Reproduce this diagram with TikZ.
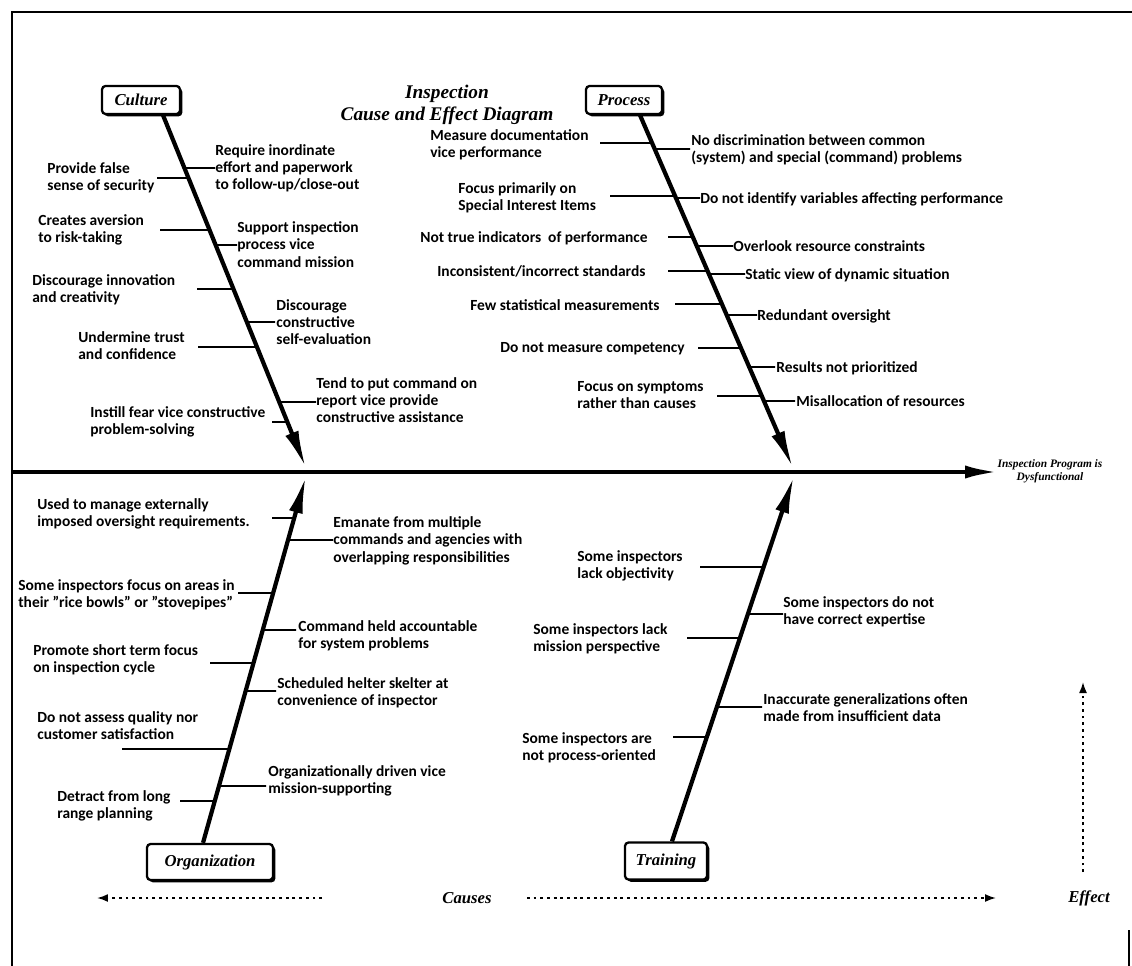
\documentclass[tikz,border=0pt]{standalone}
\usepackage{fontspec}
\setmainfont{Carlito}
\newfontfamily\headfont{Liberation Serif}
\usetikzlibrary{arrows.meta,shadows,positioning,calc}

\tikzset{
	cat/.style={draw,line width=1.3pt,rounded corners=2pt,fill=white,inner sep=0pt,
		font=\headfont\bfseries\itshape\fontsize{9.5}{11}\selectfont,
		drop shadow={opacity=1,fill=black,shadow xshift=1.3pt,shadow yshift=-1.3pt}},
	spine/.style={line width=2.4pt,-{Latex[length=0.75cm,width=0.28cm]}},
	bone/.style={line width=0.9pt},
	cause/.style={font=\bfseries\fontsize{8.8}{9.9}\selectfont,align=left,inner sep=0pt,anchor=north west},
	hint/.style={line width=1pt,dash pattern=on 1.6pt off 2.2pt,-{Latex[length=0.22cm,width=0.16cm]}},
	hintlbl/.style={font=\headfont\bfseries\itshape\fontsize{9.5}{11}\selectfont,inner sep=1pt},
}

\begin{document}
\begin{tikzpicture}[x=0.02cm,y=-0.02cm]
	\useasboundingbox (0,0) rectangle (1132,966);
	\draw[line width=1.2pt] (12,966) -- (12,12) -- (1132,12);
	\draw[line width=1pt] (1129,930) -- (1129,966);

	\node[font=\headfont\bfseries\itshape\fontsize{11}{12.8}\selectfont,align=center] (title) at (447,105) {Inspection\\Cause and Effect Diagram};

	\node[cat,minimum width=1.56cm,minimum height=0.56cm] (cul) at (141,100) {Culture};
	\node[cat,minimum width=1.52cm,minimum height=0.56cm] (pro) at (624,100) {Process};
	\node[cat,minimum width=2.52cm,minimum height=0.72cm] (org) at (210,862) {Organization};
	\node[cat,minimum width=1.64cm,minimum height=0.74cm] (trn) at (666,861) {Training};

	\coordinate (culS) at ([xshift=0.44cm]cul.south);
	\coordinate (proS) at ([xshift=0.32cm]pro.south);
	\coordinate (orgS) at ([xshift=-0.14cm]org.north);
	\coordinate (trnS) at ([xshift=0.12cm]trn.north);
	\coordinate (culT) at (306,468);
	\coordinate (proT) at (793,468);
	\coordinate (orgT) at (306,476);
	\coordinate (trnT) at (794,476);
	\coordinate (fishL) at (12,472);
	\coordinate (fishT) at (1000,472);

	\draw[spine,line width=2.7pt,-{Latex[length=0.7cm,width=0.26cm]}] (fishL) -- (fishT);
	\foreach \s in {cul,pro,org,trn}
		\draw[spine] (\s S) -- (\s T);

	\foreach \y/\x in {178/157,230/160,289/197,347/198,422/272,168/215,245/237,322/275,402/316}
		\draw[bone] (\x,\y) -- (intersection of culS--culT and 0,\y--1,\y);
	\foreach \y/\x in {143/600,196/610,237/668,271/668,304/675,348/698,396/717,149/690,198/700,246/733,274/745,315/757,367/775,401/795}
		\draw[bone] (\x,\y) -- (intersection of proS--proT and 0,\y--1,\y);
	\foreach \y/\x in {518/272,593/238,663/210,749/122,801/180,540/333,630/296,691/276,786/266}
		\draw[bone] (\x,\y) -- (intersection of orgS--orgT and 0,\y--1,\y);
	\foreach \y/\x in {567/700,638/687,737/673,614/783,707/762}
		\draw[bone] (\x,\y) -- (intersection of trnS--trnT and 0,\y--1,\y);

	\node[cause] (cl1) at (47,162) {Provide false\\sense of security};
	\node[cause] (cl2) at (38,214) {Creates aversion\\to risk-taking};
	\node[cause] (cl3) at (32,274) {Discourage innovation\\and creativity};
	\node[cause] (cl4) at (78,331) {Undermine trust\\and confidence};
	\node[cause] (cl5) at (90,406) {Instill fear vice constructive\\problem-solving};
	\node[cause] (cr1) at (215,144) {Require inordinate\\effort and paperwork\\to follow-up/close-out};
	\node[cause] (cr2) at (237,221) {Support inspection\\process vice\\command mission};
	\node[cause] (cr3) at (276,299) {Discourage\\constructive\\self-evaluation};
	\node[cause] (cr4) at (316,377) {Tend to put command on\\report vice provide\\constructive assistance};

	\node[cause] (pl1) at (430,129) {Measure documentation\\vice performance};
	\node[cause] (pl2) at (458,182) {Focus primarily on\\Special Interest Items};
	\node[cause] (pl3) at (420,231) {Not true indicators\ \ of performance};
	\node[cause] (pl4) at (437,265) {Inconsistent/incorrect standards};
	\node[cause] (pl5) at (470,299) {Few statistical measurements};
	\node[cause] (pl6) at (500,342) {Do not measure competency};
	\node[cause] (pl7) at (577,381) {Focus on symptoms\\rather than causes};
	\node[cause] (pr1) at (691,134) {No discrimination between common\\(system) and special (command) problems};
	\node[cause] (pr2) at (700,192) {Do not identify variables affecting performance};
	\node[cause] (pr3) at (733,240) {Overlook resource constraints};
	\node[cause] (pr4) at (745,268) {Static view of dynamic situation};
	\node[cause] (pr5) at (757,309) {Redundant oversight};
	\node[cause] (pr6) at (776,361) {Results not prioritized};
	\node[cause] (pr7) at (796,395) {Misallocation of resources};

	\node[cause] (ol1) at (37,498) {Used to manage externally\\imposed oversight requirements.};
	\node[cause] (ol2) at (18,579) {Some inspectors focus on areas in\\their "rice bowls" or "stovepipes"};
	\node[cause] (ol3) at (33,644) {Promote short term focus\\on inspection cycle};
	\node[cause] (ol4) at (37,711) {Do not assess quality nor\\customer satisfaction};
	\node[cause] (ol5) at (57,790) {Detract from long\\range planning};
	\node[cause] (or1) at (333,516) {Emanate from multiple\\commands and agencies with\\overlapping responsibilities};
	\node[cause] (or2) at (298,620) {Command held accountable\\for system problems};
	\node[cause] (or3) at (277,677) {Scheduled helter skelter at\\convenience of inspector};
	\node[cause] (or4) at (268,765) {Organizationally driven vice\\mission-supporting};

	\node[cause] (tl1) at (577,550) {Some inspectors\\lack objectivity};
	\node[cause] (tl2) at (533,623) {Some inspectors lack\\mission perspective};
	\node[cause] (tl3) at (522,732) {Some inspectors are\\not process-oriented};
	\node[cause] (tr1) at (783,596) {Some inspectors do not\\have correct expertise};
	\node[cause] (tr2) at (763,693) {Inaccurate generalizations often\\made from insufficient data};

	\node[font=\headfont\bfseries\itshape\fontsize{6.5}{7.5}\selectfont,align=center] (prob) at (1050,471) {Inspection Program is\\Dysfunctional};

	\node[hintlbl] (causes) at (467,898) {Causes};
	\node[hintlbl] (effect) at (1089,898) {Effect};
	\coordinate (cauA) at (322,898);
	\coordinate (cauL) at (97,898);
	\coordinate (cauB) at (527,898);
	\coordinate (cauR) at (996,898);
	\coordinate (effB) at (1083,872);
	\coordinate (effU) at (1083,682);
	\draw[hint] (cauA) -- (cauL);
	\draw[hint] (cauB) -- (cauR);
	\draw[hint] (effB) -- (effU);
\end{tikzpicture}
\end{document}
